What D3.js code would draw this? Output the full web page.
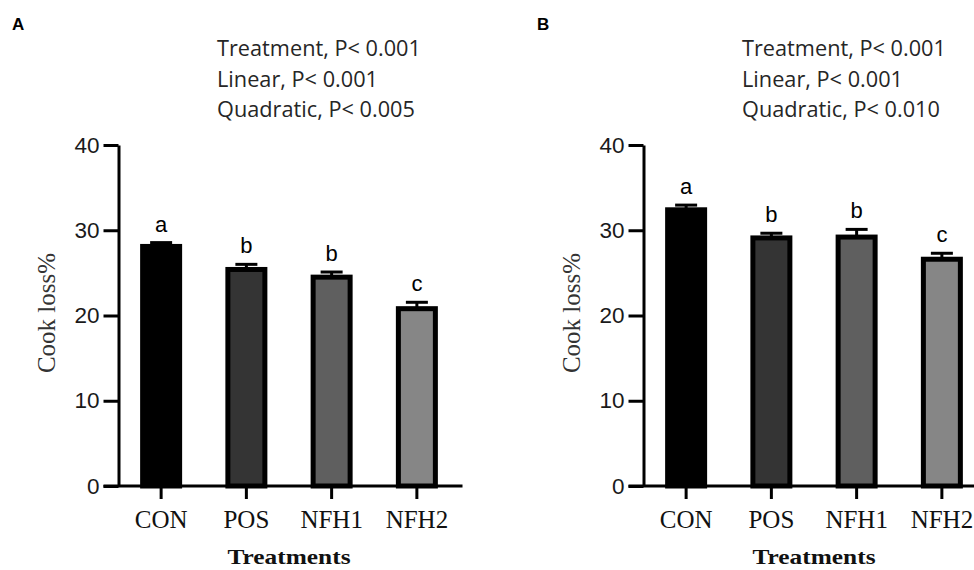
<!DOCTYPE html>
<html>
<head>
<meta charset="utf-8">
<script src="https://cdn.jsdelivr.net/npm/d3@7"></script>
<style>
  body { margin: 0; background: #fff; }
  svg { display: block; }
</style>
</head>
<body>
<div id="chart"></div>
<script>
// values (cook loss %, mean and SE)
var categories = ["CON", "POS", "NFH1", "NFH2"];
var cookLossA = [28.1, 25.4, 24.5, 20.8];
var errA = [0.45, 0.6, 0.6, 0.75];
var lettersA = ["a", "b", "b", "c"];
var cookLossB = [32.4, 29.1, 29.2, 26.6];
var errB = [0.55, 0.55, 0.9, 0.7];
var lettersB = ["a", "b", "b", "c"];
var statsA = ["Treatment, P< 0.001", "Linear, P< 0.001", "Quadratic, P< 0.005"];
var statsB = ["Treatment, P< 0.001", "Linear, P< 0.001", "Quadratic, P< 0.010"];
var yTicks = [0, 10, 20, 30, 40];
var barColors = ["#000000", "#343434", "#5f5f5f", "#868686"];

var W = 974, H = 570;
var svg = d3.select("#chart").append("svg")
    .attr("width", W)
    .attr("height", H);

var y = d3.scaleLinear().domain([0, 40]).range([486, 145]);

function drawPanel(ox, label, values, errs, letters, stats) {
    var g = svg.append("g").attr("transform", "translate(" + ox + ",0)");
    var axisX = 118.5;

    var x = d3.scaleBand()
        .domain(categories)
        .range([axisX, axisX + 341])
        .paddingInner(0.566)
        .paddingOuter(0.283);

    // panel letter
    g.append("text")
        .attr("x", 12).attr("y", 30)
        .attr("font-family", "Liberation Sans, Arial, sans-serif")
        .attr("font-weight", "bold")
        .attr("font-size", 17)
        .attr("fill", "#000")
        .text(label);

    // stats text
    var st = g.append("g")
        .attr("font-family", "Open Sans, sans-serif")
        .attr("font-size", 21)
        .attr("fill", "#262626");
    var lines = st.selectAll("text").data(stats).enter().append("text")
        .attr("x", 0)
        .attr("y", function (d, i) { return 56 + i * 30.7; })
        .text(function (d) { return d; });
    var len = lines.node().getComputedTextLength();
    var sx = 204 / len;
    st.attr("transform", "translate(217,0) scale(" + sx + ",1)");

    // bars
    g.selectAll(".bar")
        .data(values)
        .enter().append("rect")
        .attr("class", "bar")
        .attr("x", function (d, i) { return x(categories[i]); })
        .attr("y", function (d) { return y(d); })
        .attr("width", x.bandwidth())
        .attr("height", function (d) { return y(0) - y(d); })
        .attr("fill", function (d, i) { return barColors[i]; })
        .attr("stroke", "#000")
        .attr("stroke-width", 5);

    // error bars (upper only)
    var eb = g.append("g").attr("stroke", "#000").attr("stroke-width", 3);
    values.forEach(function (v, i) {
        var cx = x(categories[i]) + x.bandwidth() / 2;
        eb.append("line")
            .attr("x1", cx).attr("x2", cx)
            .attr("y1", y(v)).attr("y2", y(v + errs[i]));
        eb.append("line")
            .attr("x1", cx - 11).attr("x2", cx + 11)
            .attr("y1", y(v + errs[i])).attr("y2", y(v + errs[i]));
    });

    // significance letters
    g.selectAll(".sig")
        .data(values)
        .enter().append("text")
        .attr("class", "sig")
        .attr("x", function (d, i) { return x(categories[i]) + x.bandwidth() / 2; })
        .attr("y", function (d, i) { return y(d + errs[i]) - 11; })
        .attr("text-anchor", "middle")
        .attr("font-family", "Liberation Sans, Arial, sans-serif")
        .attr("font-size", 22)
        .attr("fill", "#000")
        .text(function (d, i) { return letters[i]; });

    // y axis
    var ya = g.append("g")
        .attr("transform", "translate(" + axisX + ",0)")
        .call(d3.axisLeft(y).tickValues(yTicks).tickSize(15).tickSizeOuter(0).tickPadding(4));
    ya.select(".domain").attr("stroke-width", 3);
    ya.selectAll(".tick line").attr("stroke-width", 3);
    ya.selectAll(".tick text")
        .attr("font-family", "Liberation Sans, Arial, sans-serif")
        .attr("font-size", 22.5)
        .attr("fill", "#1a1a1a");

    // x axis
    var xa = g.append("g")
        .attr("transform", "translate(0," + y(0) + ")")
        .call(d3.axisBottom(x).tickSize(13).tickSizeOuter(0));
    xa.select(".domain").remove();
    xa.selectAll(".tick line").attr("stroke-width", 3);
    xa.selectAll(".tick text")
        .attr("y", 42).attr("dy", 0)
        .attr("font-family", "Liberation Serif, Times New Roman, serif")
        .attr("font-size", 25)
        .attr("fill", "#111");
    g.append("line")
        .attr("x1", axisX - 15).attr("x2", axisX + 344)
        .attr("y1", y(0)).attr("y2", y(0))
        .attr("stroke", "#000").attr("stroke-width", 3);

    // axis titles
    var mid = x(categories[0]) + (x(categories[3]) + x.bandwidth() - x(categories[0])) / 2;
    g.append("text")
        .attr("x", mid).attr("y", 564)
        .attr("text-anchor", "middle")
        .attr("font-family", "Liberation Serif, Times New Roman, serif")
        .attr("font-weight", "bold")
        .attr("font-size", 22)
        .attr("fill", "#111")
        .attr("textLength", 123)
        .attr("lengthAdjust", "spacingAndGlyphs")
        .text("Treatments");

    g.append("text")
        .attr("transform", "translate(55,313) rotate(-90)")
        .attr("text-anchor", "middle")
        .attr("font-family", "Liberation Serif, Times New Roman, serif")
        .attr("font-size", 25)
        .attr("fill", "#333")
        .text("Cook loss%");
}

drawPanel(0, "A", cookLossA, errA, lettersA, statsA);
drawPanel(525, "B", cookLossB, errB, lettersB, statsB);
</script>
</body>
</html>
